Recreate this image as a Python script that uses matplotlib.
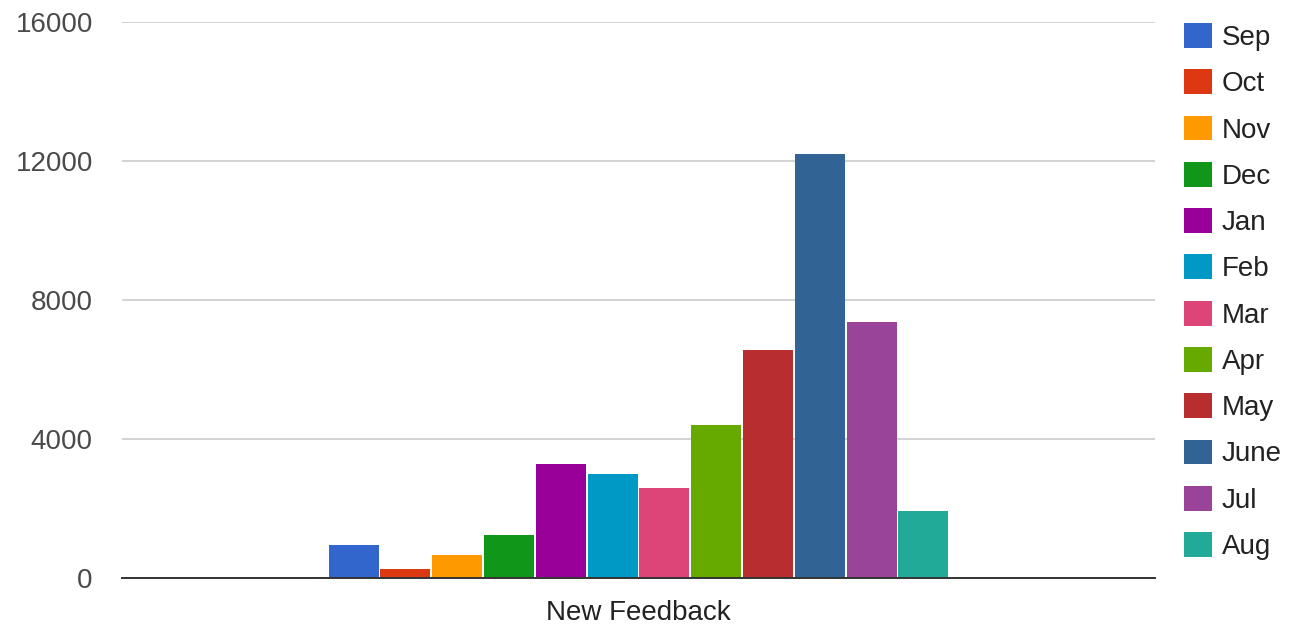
import numpy as np
import matplotlib.pyplot as plt

plt.rcParams['font.family'] = ['Liberation Sans', 'DejaVu Sans']

# monthly feedback counts, one bar per month
months = ["Sep", "Oct", "Nov", "Dec", "Jan", "Feb", "Mar", "Apr", "May", "June", "Jul", "Aug"]
feedback = [950, 250, 660, 1240, 3270, 2980, 2600, 4390, 6570, 12200, 7370, 1920]
colors = ["#3366cc", "#dc3912", "#ff9900", "#109618", "#990099", "#0099c6",
          "#dd4477", "#66aa00", "#b82e2e", "#316395", "#994499", "#22aa99"]
category = "New Feedback"
yticks = [0, 4000, 8000, 12000, 16000]

fig = plt.figure(figsize=(12.89, 6.29), dpi=100)
ax = fig.add_axes([122 / 1289, 51 / 629, 1033 / 1289, 556 / 629])

n = len(months)
for i in range(n):
    ax.bar(i - (n - 1) / 2, feedback[i], width=0.965, color=colors[i],
           label=months[i], zorder=3)

ax.set_xlim(-9.97, 9.97)
ax.set_ylim(0, 16000)
ax.set_yticks(yticks)
ax.set_yticklabels([str(t) for t in yticks])
ax.set_xticks([0])
ax.set_xticklabels([category])
ax.tick_params(axis='y', length=0, pad=21, labelsize=20, labelcolor="#4a4a4a")
ax.tick_params(axis='x', length=0, pad=16, labelsize=20, labelcolor="#222222")

ax.grid(axis='y', color="#cccccc", linewidth=1.2, zorder=0)
for s in ["top", "right", "left"]:
    ax.spines[s].set_visible(False)
ax.spines["bottom"].set_color("#333333")
ax.spines["bottom"].set_linewidth(1.4)
ax.spines["bottom"].set_zorder(4)

ax.legend(loc="upper left", bbox_to_anchor=(1184 / 1289, 1 - 23 / 629),
          bbox_transform=fig.transFigure, frameon=False, fontsize=20,
          handlelength=1.0, handleheight=1.0, handletextpad=0.36,
          labelspacing=0.66, borderpad=0, borderaxespad=0,
          labelcolor="#222222")

fig.savefig("out.png", dpi=100)
